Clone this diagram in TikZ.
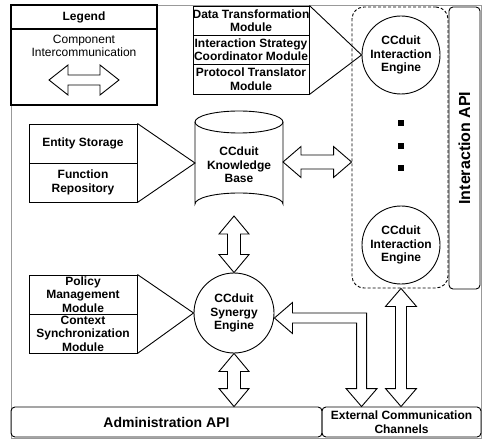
\documentclass[tikz,border=0pt]{standalone}
\usepackage{fontspec}
\setmainfont{Liberation Sans}
\usetikzlibrary{calc}
\newcommand\modfont{\fontsize{12bp}{13.5bp}\selectfont\bfseries}
\newcommand\apifont{\fontsize{14bp}{16bp}\selectfont\bfseries}
\newcommand\iapifont{\fontsize{16bp}{18bp}\selectfont\bfseries}
\newcommand\legfont{\fontsize{12bp}{13.5bp}\selectfont}
\tikzset{
  ln/.style={draw=black, line width=0.9bp},
  modbox/.style={ln, rectangle, inner sep=0pt},
  modtxt/.style={font=\modfont, align=center, inner sep=0pt},
  eng/.style={ln, circle, inner sep=0pt, minimum size=78bp, font=\modfont, align=center},
  apibox/.style={ln, rounded corners=4bp, inner sep=0pt},
  fatarrow/.style={ln, fill=white, line join=miter},
  dotsq/.style={fill=black, inner sep=0pt, minimum size=5.5bp},
}
% vertical double arrow: #1 top tip, #2 bottom tip, #3 head half width, #4 shaft half width, #5 head length
\newcommand\vdbl[5]{%
  \draw[fatarrow] let \p1=(#1), \p2=(#2) in
    (\p1) -- ++(-#3bp,-#5bp) -- (\x1-#4bp,\y1-#5bp) -- (\x1-#4bp,\y2+#5bp)
    -- (\x1-#3bp,\y2+#5bp) -- (\x1,\y2) -- (\x1+#3bp,\y2+#5bp) -- (\x1+#4bp,\y2+#5bp)
    -- (\x1+#4bp,\y1-#5bp) -- (\x1+#3bp,\y1-#5bp) -- cycle;}
% horizontal double arrow: #1 left tip, #2 right tip
\newcommand\hdbl[5]{%
  \draw[fatarrow] let \p1=(#1), \p2=(#2) in
    (\p1) -- (\x1+#5bp,\y1+#3bp) -- (\x1+#5bp,\y1+#4bp) -- (\x2-#5bp,\y1+#4bp)
    -- (\x2-#5bp,\y1+#3bp) -- (\x2,\y1) -- (\x2-#5bp,\y1-#3bp) -- (\x2-#5bp,\y1-#4bp)
    -- (\x1+#5bp,\y1-#4bp) -- (\x1+#5bp,\y1-#3bp) -- cycle;}
\begin{document}
\begin{tikzpicture}[x=1bp,y=-1bp]
\useasboundingbox (0,0) rectangle (492,442);
\draw[gray!80, line width=0.9bp] (11,5) rectangle (481,438);

% ---------- legend ----------
\node[draw=black, line width=1.6bp, minimum width=146bp, minimum height=24bp, inner sep=0pt, font=\modfont] (legt) at (84,17) {Legend};
\node[draw=black, line width=1.6bp, minimum width=146bp, minimum height=76bp, inner sep=0pt] (legb) at (84,67) {};
\node[font=\legfont, align=center, inner sep=0pt] (legtxt) at (84,46) {Component\\Intercommunication};
\coordinate (la) at (49,80);
\coordinate (lb) at (119,80);
\hdbl{la}{lb}{15}{5}{19}

% ---------- interaction side ----------
\node[ln, dashed, dash pattern=on 3bp off 2bp, rounded corners=12bp, minimum width=96bp, minimum height=281bp, inner sep=0pt] (grp) at (400,147.5) {};
\node[apibox, rotate=90, minimum width=282bp, minimum height=31bp, font=\iapifont] (iapi) at (464.5,148) {Interaction API};

\node[modbox, minimum width=116bp, minimum height=29bp] (dt) at (251,20.5) {};
\node[modtxt] at (dt) {Data Transformation\\Module};
\node[modbox, minimum width=116bp, minimum height=29bp] (is) at (251,49.5) {};
\node[modtxt] at (is) {Interaction Strategy\\Coordinator Module};
\node[modbox, minimum width=116bp, minimum height=30bp] (pt) at (251,79) {};
\node[modtxt] at (pt) {Protocol Translator\\Module};

\node[eng] (c1) at (401,55) {CCduit\\Interaction\\Engine};
\draw[ln, line join=miter] (dt.north east) -- (c1.west) -- (pt.south east);

\node[dotsq] (d1) at (401,123) {};
\node[dotsq] (d2) at (401,146) {};
\node[dotsq] (d3) at (401,168) {};
\node[eng] (c2) at (401,245) {CCduit\\Interaction\\Engine};

% ---------- knowledge base ----------
\draw[ln] (195,122) -- (195,204) arc[start angle=180, end angle=360, x radius=44, y radius=11] -- (283,122);
\draw[ln] (239,122) ellipse[x radius=44, y radius=11];
\node[modtxt] (kb) at (239,165) {CCduit\\Knowledge\\Base};
\coordinate (kbW) at (195,163);
\coordinate (kbE) at (283,162);
\coordinate (kbS) at (234,216);

\node[modbox, minimum width=108bp, minimum height=39bp] (es) at (83,143.5) {};
\node[modtxt] at (es) {Entity Storage};
\node[modbox, minimum width=108bp, minimum height=39bp] (fr) at (83,182.5) {};
\node[modtxt] at (fr) {Function\\Repository};
\draw[ln, line join=miter] (es.north east) -- (kbW) -- (fr.south east);

% ---------- synergy ----------
\node[eng, minimum size=80bp] (syn) at (234,313) {CCduit\\Synergy\\Engine};
\node[modbox, minimum width=108bp, minimum height=39bp] (pm) at (83,294.5) {};
\node[modtxt] at (pm) {Policy\\Management\\Module};
\node[modbox, minimum width=108bp, minimum height=39bp] (cs) at (83,333.5) {};
\node[modtxt] at (cs) {Context\\Synchronization\\Module};
\draw[ln, line join=miter] (pm.north east) -- (syn.west) -- (cs.south east);

% ---------- bottom APIs ----------
\node[apibox, minimum width=311bp, minimum height=30bp, font=\apifont] (admin) at (166.5,422) {Administration API};
\node[apibox, minimum width=159bp, minimum height=30bp, font=\modfont, align=center] (ext) at (401.5,422) {External Communication\\Channels};

% ---------- fat arrows ----------
\coordinate (gW) at (grp.west |- kbE);
\hdbl{kbE}{gW}{15.5}{7}{18}
\vdbl{kbS}{syn.north}{15}{6.5}{18}
\coordinate (adIn) at (syn.south |- admin.north);
\vdbl{syn.south}{adIn}{15}{6.5}{18}
\coordinate (gS) at (c2 |- grp.south);
\coordinate (extIn2) at (c2 |- ext.north);
\vdbl{gS}{extIn2}{15.5}{5.5}{18}
\coordinate (synE) at ($(syn.east)+(0,5)$);
\coordinate (extIn1) at ($(ext.north west)+(40,0)$);
\draw[fatarrow] let \p1=(synE), \p2=(extIn1) in
  (\p1) -- (\x1+18bp,\y1+15.5bp) -- (\x1+18bp,\y1+5bp) -- (\x2+5bp,\y1+5bp)
  -- (\x2+5bp,\y2+18bp) -- (\x2+15.5bp,\y2+18bp) -- (\p2) -- (\x2-15.5bp,\y2+18bp)
  -- (\x2-5bp,\y2+18bp) -- (\x2-5bp,\y1-5bp) -- (\x1+18bp,\y1-5bp) -- (\x1+18bp,\y1-15.5bp) -- cycle;
\end{tikzpicture}
\end{document}
